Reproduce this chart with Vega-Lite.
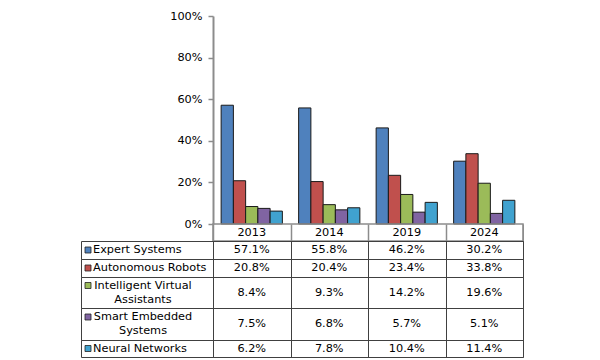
{
  "$schema": "https://vega.github.io/schema/vega-lite/v6.json",
  "padding": {"left": 80, "top": 10, "right": 0, "bottom": 0},
  "datasets": {
    "table": [
      {"year": "2013", "series": "Expert Systems", "value": 0.571},
      {"year": "2013", "series": "Autonomous Robots", "value": 0.208},
      {"year": "2013", "series": "Intelligent Virtual Assistants", "value": 0.084},
      {"year": "2013", "series": "Smart Embedded Systems", "value": 0.075},
      {"year": "2013", "series": "Neural Networks", "value": 0.062},
      {"year": "2014", "series": "Expert Systems", "value": 0.558},
      {"year": "2014", "series": "Autonomous Robots", "value": 0.204},
      {"year": "2014", "series": "Intelligent Virtual Assistants", "value": 0.093},
      {"year": "2014", "series": "Smart Embedded Systems", "value": 0.068},
      {"year": "2014", "series": "Neural Networks", "value": 0.078},
      {"year": "2019", "series": "Expert Systems", "value": 0.462},
      {"year": "2019", "series": "Autonomous Robots", "value": 0.234},
      {"year": "2019", "series": "Intelligent Virtual Assistants", "value": 0.142},
      {"year": "2019", "series": "Smart Embedded Systems", "value": 0.057},
      {"year": "2019", "series": "Neural Networks", "value": 0.104},
      {"year": "2024", "series": "Expert Systems", "value": 0.302},
      {"year": "2024", "series": "Autonomous Robots", "value": 0.338},
      {"year": "2024", "series": "Intelligent Virtual Assistants", "value": 0.196},
      {"year": "2024", "series": "Smart Embedded Systems", "value": 0.051},
      {"year": "2024", "series": "Neural Networks", "value": 0.114}
    ],
    "series": [
      {"series": "Expert Systems", "label": "Expert Systems"},
      {"series": "Autonomous Robots", "label": "Autonomous Robots"},
      {"series": "Intelligent Virtual Assistants", "label": "Intelligent Virtual\nAssistants"},
      {"series": "Smart Embedded Systems", "label": "Smart Embedded\nSystems"},
      {"series": "Neural Networks", "label": "Neural Networks"}
    ],
    "years": [{"year": "2013"}, {"year": "2014"}, {"year": "2019"}, {"year": "2024"}]
  },
  "config": {
    "font": "DejaVu Sans",
    "view": {"stroke": null},
    "concat": {"spacing": 0},
    "axis": {"labelFont": "DejaVu Sans", "labelFontSize": 11.3, "labelColor": "#000000"},
    "text": {"font": "DejaVu Sans", "fontSize": 11.3, "color": "#000000"}
  },
  "bounds": "flush",
  "spacing": 0,
  "columns": 2,
  "concat": [
    {"width": 132, "height": 208, "data": {"values": []}, "mark": "point", "encoding": {}},
    {
      "width": 310, "height": 208,
      "data": {"name": "table"},
      "mark": {"type": "bar", "stroke": "#1a1a1a", "strokeWidth": 1},
      "encoding": {
        "x": {"field": "year", "type": "nominal", "scale": {"domain": ["2013", "2014", "2019", "2024"], "paddingInner": 0.21, "paddingOuter": 0.105}, "axis": null},
        "xOffset": {"field": "series", "type": "nominal", "scale": {"domain": ["Expert Systems", "Autonomous Robots", "Intelligent Virtual Assistants", "Smart Embedded Systems", "Neural Networks"], "paddingInner": 0, "paddingOuter": 0}},
        "y": {"field": "value", "type": "quantitative", "scale": {"domain": [0, 1]},
          "axis": {"values": [0, 0.2, 0.4, 0.6, 0.8, 1], "format": ".0%", "title": null, "grid": false, "domainColor": "#8c8c8c", "domainWidth": 2, "tickColor": "#8c8c8c", "tickSize": 5, "tickWidth": 1.5, "labelPadding": 6}},
        "color": {"field": "series", "type": "nominal", "scale": {"domain": ["Expert Systems", "Autonomous Robots", "Intelligent Virtual Assistants", "Smart Embedded Systems", "Neural Networks"], "range": ["#4F81BD", "#C0504D", "#9BBB59", "#8064A2", "#40A2CF"]}, "legend": null}
      }
    },
    {"width": 132, "height": 17, "data": {"values": []}, "mark": "point", "encoding": {}},
    {
      "width": 310, "height": 17,
      "data": {"name": "years"},
      "view": {"stroke": "#8c8c8c", "strokeWidth": 1.5},
      "mark": {"type": "text"},
      "encoding": {
        "x": {"field": "year", "type": "nominal", "scale": {"domain": ["2013", "2014", "2019", "2024"], "paddingInner": 0, "paddingOuter": 0},
          "axis": {"grid": true, "tickBand": "extent", "labels": false, "ticks": false, "domain": false, "title": null, "gridColor": "#8c8c8c", "gridWidth": 1.5}},
        "text": {"field": "year"}
      }
    },
    {
      "width": 132, "height": 18,
      "data": {"name": "series"},
      "transform": [{"filter": "datum.series === 'Expert Systems'"}],
      "view": {"stroke": "#404040"},
      "layer": [
        {"mark": {"type": "point", "shape": "square", "filled": true, "opacity": 1, "size": 36, "stroke": "#222222", "strokeWidth": 0.8, "xOffset": -59},
          "encoding": {"color": {"field": "series", "type": "nominal", "scale": {"domain": ["Expert Systems", "Autonomous Robots", "Intelligent Virtual Assistants", "Smart Embedded Systems", "Neural Networks"], "range": ["#4F81BD", "#C0504D", "#9BBB59", "#8064A2", "#40A2CF"]}, "legend": null}}},
        {"mark": {"type": "text", "align": "left", "dx": -54, "lineBreak": "\n"}, "encoding": {"text": {"field": "label"}}}
      ]
    },
    {
      "width": 310, "height": 18,
      "data": {"name": "table"},
      "transform": [{"filter": "datum.series === 'Expert Systems'"}],
      "view": {"stroke": "#404040"},
      "mark": {"type": "text"},
      "encoding": {
        "x": {"field": "year", "type": "nominal", "scale": {"domain": ["2013", "2014", "2019", "2024"], "paddingInner": 0, "paddingOuter": 0},
          "axis": {"grid": true, "tickBand": "extent", "labels": false, "ticks": false, "domain": false, "title": null, "gridColor": "#404040"}},
        "text": {"field": "value", "type": "quantitative", "format": ".1%"}
      }
    },
    {
      "width": 132, "height": 18,
      "data": {"name": "series"},
      "transform": [{"filter": "datum.series === 'Autonomous Robots'"}],
      "view": {"stroke": "#404040"},
      "layer": [
        {"mark": {"type": "point", "shape": "square", "filled": true, "opacity": 1, "size": 36, "stroke": "#222222", "strokeWidth": 0.8, "xOffset": -59},
          "encoding": {"color": {"field": "series", "type": "nominal", "scale": {"domain": ["Expert Systems", "Autonomous Robots", "Intelligent Virtual Assistants", "Smart Embedded Systems", "Neural Networks"], "range": ["#4F81BD", "#C0504D", "#9BBB59", "#8064A2", "#40A2CF"]}, "legend": null}}},
        {"mark": {"type": "text", "align": "left", "dx": -54, "lineBreak": "\n"}, "encoding": {"text": {"field": "label"}}}
      ]
    },
    {
      "width": 310, "height": 18,
      "data": {"name": "table"},
      "transform": [{"filter": "datum.series === 'Autonomous Robots'"}],
      "view": {"stroke": "#404040"},
      "mark": {"type": "text"},
      "encoding": {
        "x": {"field": "year", "type": "nominal", "scale": {"domain": ["2013", "2014", "2019", "2024"], "paddingInner": 0, "paddingOuter": 0},
          "axis": {"grid": true, "tickBand": "extent", "labels": false, "ticks": false, "domain": false, "title": null, "gridColor": "#404040"}},
        "text": {"field": "value", "type": "quantitative", "format": ".1%"}
      }
    },
    {
      "width": 132, "height": 31,
      "data": {"name": "series"},
      "transform": [{"filter": "datum.series === 'Intelligent Virtual Assistants'"}],
      "view": {"stroke": "#404040"},
      "layer": [
        {"mark": {"type": "point", "shape": "square", "filled": true, "opacity": 1, "size": 36, "stroke": "#222222", "strokeWidth": 0.8, "xOffset": -59, "yOffset": -7},
          "encoding": {"color": {"field": "series", "type": "nominal", "scale": {"domain": ["Expert Systems", "Autonomous Robots", "Intelligent Virtual Assistants", "Smart Embedded Systems", "Neural Networks"], "range": ["#4F81BD", "#C0504D", "#9BBB59", "#8064A2", "#40A2CF"]}, "legend": null}}},
        {"mark": {"type": "text", "align": "center", "dx": -4, "dy": -7, "lineBreak": "\n", "lineHeight": 14}, "encoding": {"text": {"field": "label"}}}
      ]
    },
    {
      "width": 310, "height": 31,
      "data": {"name": "table"},
      "transform": [{"filter": "datum.series === 'Intelligent Virtual Assistants'"}],
      "view": {"stroke": "#404040"},
      "mark": {"type": "text"},
      "encoding": {
        "x": {"field": "year", "type": "nominal", "scale": {"domain": ["2013", "2014", "2019", "2024"], "paddingInner": 0, "paddingOuter": 0},
          "axis": {"grid": true, "tickBand": "extent", "labels": false, "ticks": false, "domain": false, "title": null, "gridColor": "#404040"}},
        "text": {"field": "value", "type": "quantitative", "format": ".1%"}
      }
    },
    {
      "width": 132, "height": 32,
      "data": {"name": "series"},
      "transform": [{"filter": "datum.series === 'Smart Embedded Systems'"}],
      "view": {"stroke": "#404040"},
      "layer": [
        {"mark": {"type": "point", "shape": "square", "filled": true, "opacity": 1, "size": 36, "stroke": "#222222", "strokeWidth": 0.8, "xOffset": -59, "yOffset": -7},
          "encoding": {"color": {"field": "series", "type": "nominal", "scale": {"domain": ["Expert Systems", "Autonomous Robots", "Intelligent Virtual Assistants", "Smart Embedded Systems", "Neural Networks"], "range": ["#4F81BD", "#C0504D", "#9BBB59", "#8064A2", "#40A2CF"]}, "legend": null}}},
        {"mark": {"type": "text", "align": "center", "dx": -4, "dy": -7, "lineBreak": "\n", "lineHeight": 14}, "encoding": {"text": {"field": "label"}}}
      ]
    },
    {
      "width": 310, "height": 32,
      "data": {"name": "table"},
      "transform": [{"filter": "datum.series === 'Smart Embedded Systems'"}],
      "view": {"stroke": "#404040"},
      "mark": {"type": "text"},
      "encoding": {
        "x": {"field": "year", "type": "nominal", "scale": {"domain": ["2013", "2014", "2019", "2024"], "paddingInner": 0, "paddingOuter": 0},
          "axis": {"grid": true, "tickBand": "extent", "labels": false, "ticks": false, "domain": false, "title": null, "gridColor": "#404040"}},
        "text": {"field": "value", "type": "quantitative", "format": ".1%"}
      }
    },
    {
      "width": 132, "height": 17,
      "data": {"name": "series"},
      "transform": [{"filter": "datum.series === 'Neural Networks'"}],
      "view": {"stroke": "#404040"},
      "layer": [
        {"mark": {"type": "point", "shape": "square", "filled": true, "opacity": 1, "size": 36, "stroke": "#222222", "strokeWidth": 0.8, "xOffset": -59},
          "encoding": {"color": {"field": "series", "type": "nominal", "scale": {"domain": ["Expert Systems", "Autonomous Robots", "Intelligent Virtual Assistants", "Smart Embedded Systems", "Neural Networks"], "range": ["#4F81BD", "#C0504D", "#9BBB59", "#8064A2", "#40A2CF"]}, "legend": null}}},
        {"mark": {"type": "text", "align": "left", "dx": -54, "lineBreak": "\n"}, "encoding": {"text": {"field": "label"}}}
      ]
    },
    {
      "width": 310, "height": 17,
      "data": {"name": "table"},
      "transform": [{"filter": "datum.series === 'Neural Networks'"}],
      "view": {"stroke": "#404040"},
      "mark": {"type": "text"},
      "encoding": {
        "x": {"field": "year", "type": "nominal", "scale": {"domain": ["2013", "2014", "2019", "2024"], "paddingInner": 0, "paddingOuter": 0},
          "axis": {"grid": true, "tickBand": "extent", "labels": false, "ticks": false, "domain": false, "title": null, "gridColor": "#404040"}},
        "text": {"field": "value", "type": "quantitative", "format": ".1%"}
      }
    }
  ]
}
